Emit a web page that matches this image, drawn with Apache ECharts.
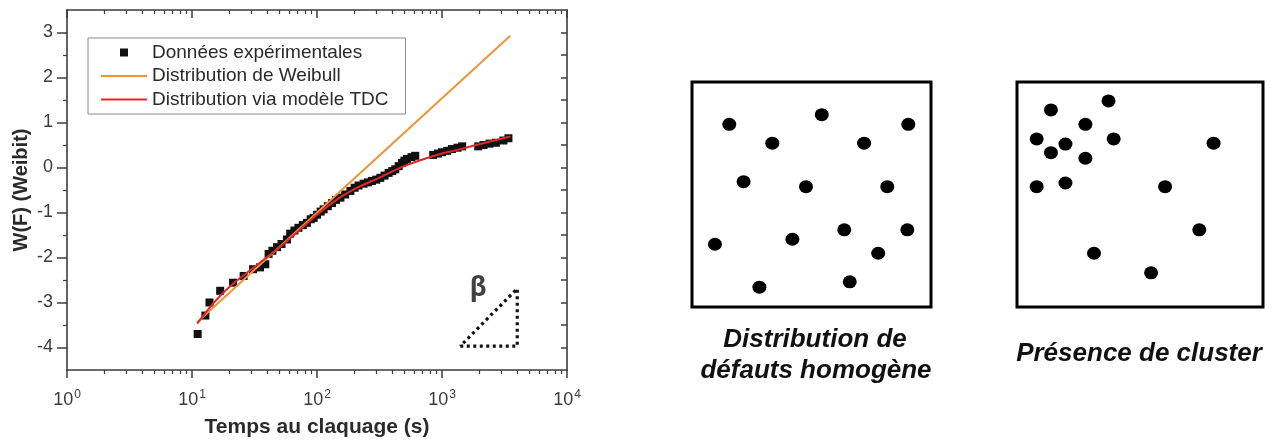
<!DOCTYPE html>
<html><head><meta charset="utf-8">
<script src="https://cdn.jsdelivr.net/npm/echarts@6/dist/echarts.min.js"></script>
<style>html,body{margin:0;padding:0;background:#fff}#c{width:1280px;height:443px}</style>
</head><body><div id="c"></div>
<script>
// ---- Experimental data (time to breakdown, Weibit) ----
const expTime   = [11.1, 12.8, 13.8, 16.8, 21.3, 25.9, 30.8, 35, 38.6, 41, 44, 47.9, 52, 57.5, 61, 66, 71, 77, 83, 89, 94, 100, 107, 113, 122, 132, 142, 154, 168, 185, 200, 215, 236, 255, 275, 298, 321, 347, 374, 400, 423, 450, 478, 500, 525, 570, 611, 850, 930, 1000, 1100, 1200, 1330, 1450, 1950, 2150, 2400, 2700, 3100, 3400];
const expWeibit = [-3.70, -3.29, -3.00, -2.74, -2.56, -2.41, -2.26, -2.22, -2.15, -1.92, -1.85, -1.77, -1.70, -1.60, -1.47, -1.40, -1.34, -1.28, -1.23, -1.15, -1.12, -1.05, -0.98, -0.93, -0.86, -0.79, -0.72, -0.67, -0.60, -0.52, -0.45, -0.40, -0.36, -0.33, -0.30, -0.27, -0.23, -0.18, -0.12, -0.08, -0.04, 0.03, 0.10, 0.15, 0.19, 0.23, 0.26, 0.28, 0.31, 0.34, 0.37, 0.41, 0.44, 0.47, 0.47, 0.50, 0.53, 0.55, 0.60, 0.65];
// ---- Weibull straight line ----
const weibullTime   = [11, 3520];
const weibullWeibit = [-3.44, 2.93];
// ---- TDC model curve ----
const tdcTime   = [11, 15, 20, 27.5, 37, 50, 70, 100, 150, 220, 320, 460, 670, 970, 1240, 2290, 3520];
const tdcWeibit = [-3.47, -3.00, -2.65, -2.34, -2.06, -1.78, -1.43, -1.05, -0.68, -0.42, -0.22, -0.01, 0.16, 0.30, 0.37, 0.56, 0.69];
// ---- slope triangle (beta) ----
const triangleTime   = [1400, 4000, 4000, 1400];
const triangleWeibit = [-3.97, -3.97, -2.69, -3.97];
const betaTime = [1950];
const betaWeibit = [-2.68];
// ---- ticks ----
const xDecades = [1, 10, 100, 1000, 10000];
const xMinorTicks = [2,3,4,5,6,7,8,9,20,30,40,50,60,70,80,90,200,300,400,500,600,700,800,900,2000,3000,4000,5000,6000,7000,8000,9000];
const yTicks = [-4, -3, -2, -1, 0, 1, 2, 3];
const yHalfTicks = [-3.5, -2.5, -1.5, -0.5, 0.5, 1.5, 2.5];
const yRightTicks = [-4, -3.5, -3, -2.5, -2, -1.5, -1, -0.5, 0, 0.5, 1, 1.5, 2, 2.5, 3];
// ---- defect maps (position in box, %) ----
const homogX = [15.6, 54.3, 90.5, 33.6, 72.0, 21.6, 47.7, 81.7, 9.6, 42.0, 63.7, 90.1, 77.9, 28.2, 66.0];
const homogY = [81.2, 85.5, 81.2, 72.8, 72.8, 55.7, 53.5, 53.5, 27.9, 30.1, 34.3, 34.3, 23.9, 8.8, 11.2];
const clusterX = [13.8, 37.2, 27.8, 8.0, 19.7, 13.8, 39.3, 27.8, 79.9, 8.0, 19.7, 60.2, 74.1, 31.3, 54.5];
const clusterY = [87.6, 91.6, 81.2, 74.7, 72.4, 68.6, 74.7, 66.1, 72.8, 53.5, 55.1, 53.5, 34.3, 23.9, 15.2];

const zip = (a, b) => a.map((v, i) => [v, b[i]]);
const FONT = 'Liberation Sans';
const AX = '#3c3c3c';
const TXT = '#2a2a2a';

const chart = echarts.init(document.getElementById('c'), null, {renderer: 'canvas'});
const logX = (extra) => Object.assign({
  type: 'log', logBase: 10, min: 1, max: 10000, gridIndex: 0,
  splitLine: {show: false}, axisLabel: {show: false},
  axisLine: {show: false, onZero: false}, axisTick: {show: false}
}, extra);
const valY = (extra) => Object.assign({
  type: 'value', min: -4.5, max: 3.5, gridIndex: 0,
  splitLine: {show: false}, axisLabel: {show: false},
  axisLine: {show: false, onZero: false}, axisTick: {show: false}
}, extra);
const boxAxis = (gi) => ({type: 'value', min: 0, max: 100, gridIndex: gi, show: false});

chart.setOption({
  animation: false,
  backgroundColor: '#fff',
  textStyle: {fontFamily: FONT},
  grid: [
    {left: 67, top: 10, width: 500, height: 363},
    {left: 692, top: 82, width: 239, height: 225, show: true, borderColor: '#000', borderWidth: 3, backgroundColor: 'transparent'},
    {left: 1017, top: 82, width: 246, height: 225, show: true, borderColor: '#000', borderWidth: 3, backgroundColor: 'transparent'}
  ],
  legend: {
    left: 88, top: 38, orient: 'vertical',
    padding: [5, 17, 5, 13], itemGap: 4.5, itemWidth: 46, itemHeight: 8,
    borderColor: '#8a8a8a', borderWidth: 1, backgroundColor: '#fff',
    textStyle: {fontSize: 19, color: TXT, fontFamily: FONT, lineHeight: 19},
    data: [
      {name: 'Données expérimentales', icon: 'path://M0,0L8,0L8,8L0,8Z', itemStyle: {color: '#111'}},
      {name: 'Distribution de Weibull', icon: 'path://M0,0L46,0L46,2.2L0,2.2Z', itemStyle: {color: '#EE9433'}},
      {name: 'Distribution via modèle TDC', icon: 'path://M0,0L46,0L46,2.2L0,2.2Z', itemStyle: {color: '#E2262B'}}
    ]
  },
  xAxis: [
    logX({
      position: 'bottom',
      axisLine: {show: true, onZero: false, lineStyle: {color: AX, width: 1.6}},
      axisTick: {show: true, inside: false, length: 8, customValues: xDecades, lineStyle: {color: AX, width: 1.5}},
      axisLabel: {
        show: true, margin: 19, customValues: xDecades, color: TXT,
        formatter: v => '{b|10}{s|' + Math.round(Math.log10(v)) + '}',
        rich: {
          b: {fontSize: 18, fontFamily: FONT, color: '#3a3a3a', lineHeight: 20, verticalAlign: 'bottom'},
          s: {fontSize: 12, fontFamily: FONT, color: '#3a3a3a', lineHeight: 20, verticalAlign: 'top', padding: [0, 0, 0, 1]}
        }
      },
      name: 'Temps au claquage (s)', nameLocation: 'middle', nameGap: 47,
      nameTextStyle: {fontSize: 21, fontWeight: 'bold', color: TXT, fontFamily: FONT}
    }),
    logX({position: 'bottom',
      axisTick: {show: true, inside: false, length: 4, customValues: xMinorTicks, lineStyle: {color: AX, width: 1.2}}}),
    logX({position: 'top',
      axisLine: {show: true, onZero: false, lineStyle: {color: AX, width: 1.6}},
      axisTick: {show: true, inside: true, length: 8, customValues: xDecades, lineStyle: {color: AX, width: 1.5}}}),
    logX({position: 'top',
      axisTick: {show: true, inside: true, length: 4, customValues: xMinorTicks, lineStyle: {color: AX, width: 1.2}}}),
    boxAxis(1), boxAxis(2)
  ],
  yAxis: [
    valY({
      position: 'left',
      axisLine: {show: true, onZero: false, lineStyle: {color: AX, width: 1.6}},
      axisTick: {show: true, inside: false, length: 10, customValues: yTicks, lineStyle: {color: AX, width: 1.5}},
      axisLabel: {show: true, margin: 14, customValues: yTicks, fontSize: 18, color: '#3a3a3a', fontFamily: FONT},
      name: 'W(F) (Weibit)', nameLocation: 'middle', nameGap: 36, nameRotate: 90,
      nameTextStyle: {fontSize: 20, fontWeight: 'bold', color: TXT, fontFamily: FONT}
    }),
    valY({position: 'left',
      axisTick: {show: true, inside: false, length: 4, customValues: yHalfTicks, lineStyle: {color: AX, width: 1.2}}}),
    valY({position: 'right',
      axisLine: {show: true, onZero: false, lineStyle: {color: AX, width: 1.6}},
      axisTick: {show: true, inside: true, length: 6, customValues: yRightTicks, lineStyle: {color: AX, width: 1.5}}}),
    boxAxis(1), boxAxis(2)
  ],
  series: [
    {
      name: 'Données expérimentales', type: 'scatter', xAxisIndex: 0, yAxisIndex: 0,
      symbol: 'rect', symbolSize: 8, itemStyle: {color: '#111', opacity: 1},
      data: zip(expTime, expWeibit), z: 3
    },
    {
      name: 'Distribution de Weibull', type: 'line', xAxisIndex: 0, yAxisIndex: 0,
      symbol: 'none', showSymbol: false, lineStyle: {color: '#EE9433', width: 2}, itemStyle: {color: '#EE9433'},
      data: zip(weibullTime, weibullWeibit), z: 4
    },
    {
      name: 'Distribution via modèle TDC', type: 'line', xAxisIndex: 0, yAxisIndex: 0,
      symbol: 'none', showSymbol: false, smooth: 0.3, lineStyle: {color: '#E2262B', width: 2}, itemStyle: {color: '#E2262B'},
      data: zip(tdcTime, tdcWeibit), z: 5
    },
    {
      name: 'triangle', type: 'line', xAxisIndex: 0, yAxisIndex: 0,
      symbol: 'none', showSymbol: false,
      lineStyle: {color: '#111', width: 3.2, type: [3, 3.5]},
      data: zip(triangleTime, triangleWeibit), z: 2
    },
    {
      name: 'beta', type: 'scatter', xAxisIndex: 0, yAxisIndex: 0,
      symbolSize: 1, itemStyle: {color: 'rgba(0,0,0,0)'},
      label: {show: true, position: 'inside', formatter: 'β', fontSize: 27, fontWeight: 'bold', color: '#111', fontFamily: 'Noto Sans'},
      data: zip(betaTime, betaWeibit)
    },
    {
      name: 'homogene', type: 'scatter', xAxisIndex: 4, yAxisIndex: 3,
      symbol: 'circle', symbolSize: [14, 13], itemStyle: {color: '#000', opacity: 1},
      data: zip(homogX, homogY)
    },
    {
      name: 'cluster', type: 'scatter', xAxisIndex: 5, yAxisIndex: 4,
      symbol: 'circle', symbolSize: [14, 13], itemStyle: {color: '#000', opacity: 1},
      data: zip(clusterX, clusterY)
    }
  ],
  graphic: [
    {type: 'text', x: 815, y: 340, style: {text: 'Distribution de', font: 'italic bold 26px "Liberation Sans"', fill: '#111', align: 'center', verticalAlign: 'middle'}},
    {type: 'text', x: 816, y: 371, style: {text: 'défauts homogène', font: 'italic bold 26px "Liberation Sans"', fill: '#111', align: 'center', verticalAlign: 'middle'}},
    {type: 'text', x: 1139, y: 354, style: {text: 'Présence de cluster', font: 'italic bold 26px "Liberation Sans"', fill: '#111', align: 'center', verticalAlign: 'middle'}}
  ]
});
</script>
</body></html>
